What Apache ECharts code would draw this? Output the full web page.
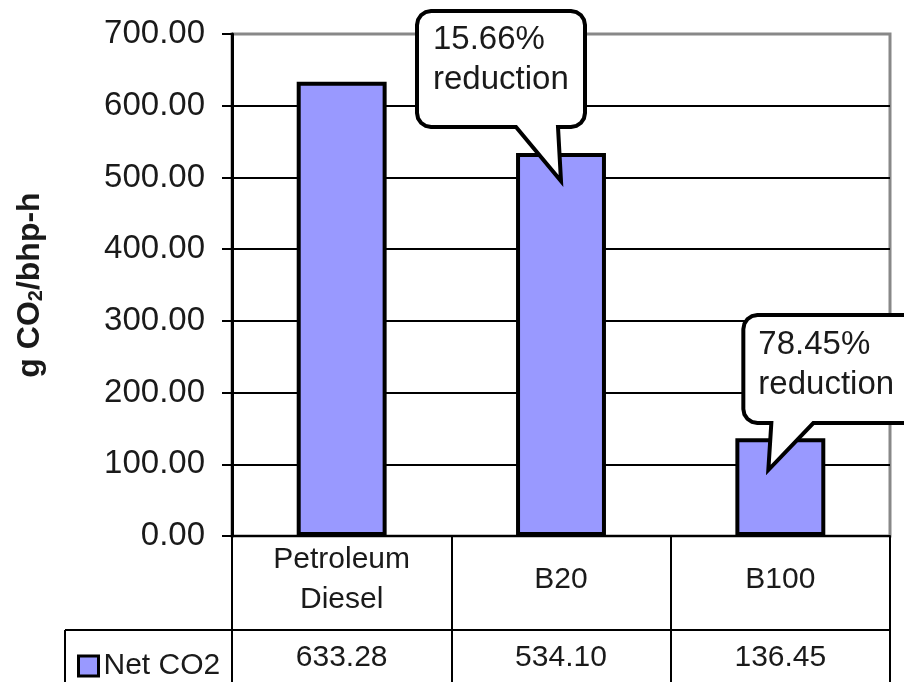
<!DOCTYPE html>
<html>
<head>
<meta charset="utf-8">
<script src="https://cdn.jsdelivr.net/npm/echarts@6/dist/echarts.min.js"></script>
<style>
html, body { margin: 0; padding: 0; background: #fff; }
#main { width: 904px; height: 682px; }
</style>
</head>
<body>
<div id="main"></div>
<script>
// data
var categories = ['Petroleum\nDiesel', 'B20', 'B100'];
var seriesName = 'Net CO2';
var netCO2 = [633.28, 534.10, 136.45];
var yMin = 0, yMax = 700, yStep = 100;
// callouts: category index, value the pointer reaches, text
var calloutCat = [1, 2];
var calloutAt = [495, 92];
var calloutText = ['15.66%\nreduction', '78.45%\nreduction'];

var FONT = 'Liberation Sans, Arial, sans-serif';
var TXT = '#1a1a1a';
var BAR = '#9999ff';

var myChart = echarts.init(document.getElementById('main'));

option = {
    backgroundColor: '#fff',
    animation: false,
    grid: {
        left: 232, right: 14, top: 34, bottom: 146,
        show: true,
        borderColor: '#888',
        borderWidth: 3
    },
    legend: {
        left: 72, top: 646,
        itemWidth: 20, itemHeight: 20,
        itemGap: 0,
        icon: 'rect',
        itemStyle: { color: BAR, borderColor: '#000', borderWidth: 3 },
        textStyle: { fontFamily: FONT, fontSize: 30, color: TXT },
        data: [seriesName]
    },
    xAxis: {
        type: 'category',
        data: categories,
        axisLine: { lineStyle: { color: '#000', width: 2 } },
        axisTick: { show: true, length: 146, lineStyle: { color: '#000', width: 2 } },
        axisLabel: {
            margin: 44,
            verticalAlign: 'middle',
            lineHeight: 40,
            fontFamily: FONT, fontSize: 30, color: TXT
        }
    },
    yAxis: {
        type: 'value',
        min: yMin, max: yMax, interval: yStep,
        name: 'g CO{s|2}/bhp-h',
        nameLocation: 'middle',
        nameRotate: 90,
        nameGap: 186,
        nameTextStyle: {
            fontFamily: FONT, fontSize: 32, fontWeight: 'bold', color: TXT,
            rich: { s: { fontFamily: FONT, fontSize: 20, fontWeight: 'bold', color: TXT, padding: [12, 0, 0, 0] } }
        },
        axisLine: { show: true, lineStyle: { color: '#000', width: 3 } },
        axisTick: { show: true, length: 10, lineStyle: { color: '#000', width: 2 } },
        axisLabel: {
            margin: 27,
            fontFamily: FONT, fontSize: 33, color: TXT,
            formatter: function (v) { return v.toFixed(2); }
        },
        splitLine: { show: true, showMaxLine: false, lineStyle: { color: '#000', width: 2 } }
    },
    series: [{
        name: seriesName,
        type: 'bar',
        data: netCO2,
        barWidth: '41%',
        itemStyle: { color: BAR, borderColor: '#000', borderWidth: 4 }
    }]
};
myChart.setOption(option);

// rounded-corner bubble with a pointer on the bottom edge
function corner(pts, cx, cy, r, a0) {
    for (var k = 0; k <= 4; k++) {
        var a = (a0 + k * 22.5) * Math.PI / 180;
        pts.push([cx + r * Math.cos(a), cy + r * Math.sin(a)]);
    }
}
function bubblePoints(L, T, R, B, tl, tr, tx, ty, r) {
    var pts = [];
    corner(pts, L + r, T + r, r, 180);
    corner(pts, R - r, T + r, r, 270);
    corner(pts, R - r, B - r, r, 0);
    pts.push([tr, B], [tx, ty], [tl, B]);
    corner(pts, L + r, B - r, r, 90);
    return pts;
}

var zeroY = myChart.convertToPixel({ yAxisIndex: 0 }, 0);
var rightX = 904 - 14;
var graphics = [];
// table row separator and legend cell border
graphics.push({ type: 'line', shape: { x1: 65, y1: zeroY + 94, x2: rightX, y2: zeroY + 94 }, style: { stroke: '#000', lineWidth: 2 } });
graphics.push({ type: 'line', shape: { x1: 65, y1: zeroY + 94, x2: 65, y2: 682 }, style: { stroke: '#000', lineWidth: 2 } });
// values row
netCO2.forEach(function (v, i) {
    var cx = myChart.convertToPixel({ xAxisIndex: 0 }, i);
    graphics.push({
        type: 'text', x: cx, y: zeroY + 122,
        style: { text: v.toFixed(2), fontFamily: FONT, fontSize: 30, fill: TXT, align: 'center', verticalAlign: 'middle' }
    });
});
// callout layout: offsets from pointer tip
var calloutBox = [
    { dx: 0, L: -144, R: 24, T: -170, B: -54, tl: -45, tr: -3, textX: -128, textY: -121 },
    { dx: -12, L: -25, R: 160, T: -155, B: -47, tl: 3, tr: 45, textX: -10, textY: -105 }
];
calloutCat.forEach(function (c, k) {
    var b = calloutBox[k];
    var tx = myChart.convertToPixel({ xAxisIndex: 0 }, c) + b.dx;
    var ty = myChart.convertToPixel({ yAxisIndex: 0 }, calloutAt[k]);
    graphics.push({
        type: 'polygon', z: 100,
        shape: { points: bubblePoints(tx + b.L, ty + b.T, tx + b.R, ty + b.B, tx + b.tl, tx + b.tr, tx, ty, 14) },
        style: { fill: '#fff', stroke: '#000', lineWidth: 4 }
    });
    graphics.push({
        type: 'text', z: 101, x: tx + b.textX, y: ty + b.textY,
        style: { text: calloutText[k], fontFamily: FONT, fontSize: 33, lineHeight: 40, fill: TXT, align: 'left', verticalAlign: 'middle' }
    });
});
myChart.setOption({ graphic: graphics });
</script>
</body>
</html>
